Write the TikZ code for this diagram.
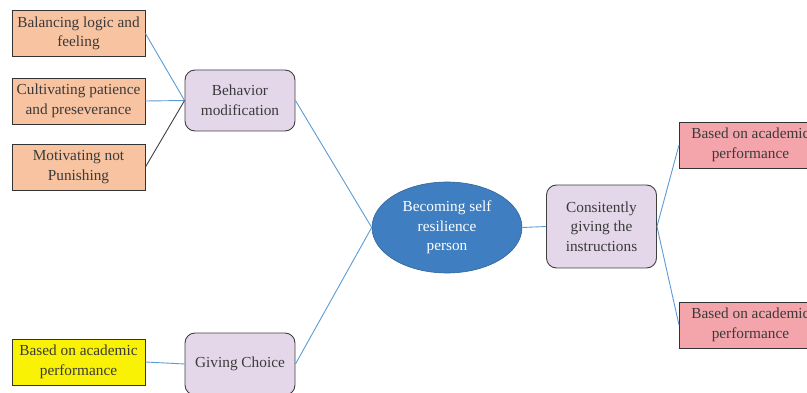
\documentclass[tikz,border=0pt]{standalone}
\usepackage{fontspec}
\setmainfont{Liberation Serif}
\usetikzlibrary{shapes.geometric}
\definecolor{peach}{HTML}{F8C3A0}
\definecolor{lilac}{HTML}{E4D7EA}
\definecolor{bluefill}{HTML}{3E7EC1}
\definecolor{pinkfill}{HTML}{F4A5AC}
\definecolor{yel}{HTML}{FAF205}
\definecolor{conn}{HTML}{5B9BD5}
\definecolor{txt}{HTML}{3A3A3A}
\tikzset{
  leaf/.style={draw=black!80, line width=0.9pt, minimum width=133pt, minimum height=46pt, inner sep=0pt, align=center, font=\fontsize{15.3}{19.5}\selectfont, text=txt},
  mid/.style={draw=black!75, line width=0.9pt, rounded corners=10pt, fill=lilac, minimum width=110pt, inner sep=0pt, align=center, font=\fontsize{15.3}{19.5}\selectfont, text=txt},
  link/.style={draw=conn, line width=0.9pt},
}
\begin{document}
\begin{tikzpicture}[x=1pt,y=-1pt]
\useasboundingbox (0,0) rectangle (807,393);
\clip (0,0) rectangle (807,393);
\node[leaf, fill=peach] (b1) at (78.5,33.5) {Balancing logic and\\feeling};
\node[leaf, fill=peach] (b2) at (78.5,101) {Cultivating patience\\and preseverance};
\node[leaf, fill=peach] (b3) at (78.5,167) {Motivating not\\Punishing};
\node[leaf, fill=yel] (y1) at (78.5,362) {Based on academic\\performance};
\node[mid, minimum height=61pt] (bm) at (240,100.5) {Behavior\\modification};
\node[mid, minimum height=62pt] (gc) at (240,364) {Giving Choice};
\node[ellipse, draw=bluefill!80!black, line width=0.6pt, fill=bluefill, minimum width=150pt, minimum height=91pt, inner sep=0pt, align=center, text=white, font=\fontsize{15.3}{19.5}\selectfont] (c) at (447,227.5) {Becoming self\\resilience\\person};
\node[mid, minimum height=83pt] (ci) at (601.5,226.5) {Consitently\\giving the\\instructions};
\node[leaf, fill=pinkfill, minimum width=142pt, anchor=west] (r1) at (679,145) {Based on academic\\performance};
\node[leaf, fill=pinkfill, minimum width=142pt, anchor=west] (r2) at (679,325) {Based on academic\\performance};
\coordinate (bmw) at (bm.west);
\draw[link] (b1.east) -- (bmw);
\draw[link] (b2.east) -- (bmw);
\draw[draw=black!75, line width=0.9pt] (b3.east) -- (bmw);
\draw[link] (y1.east) -- (gc.west);
\draw[link] (bm.east) -- (c.west);
\draw[link] (gc.east) -- (c.west);
\draw[link] (c.east) -- (ci.west);
\draw[link] (ci.east) -- (r1.west);
\draw[link] (ci.east) -- (r2.west);
\end{tikzpicture}
\end{document}
